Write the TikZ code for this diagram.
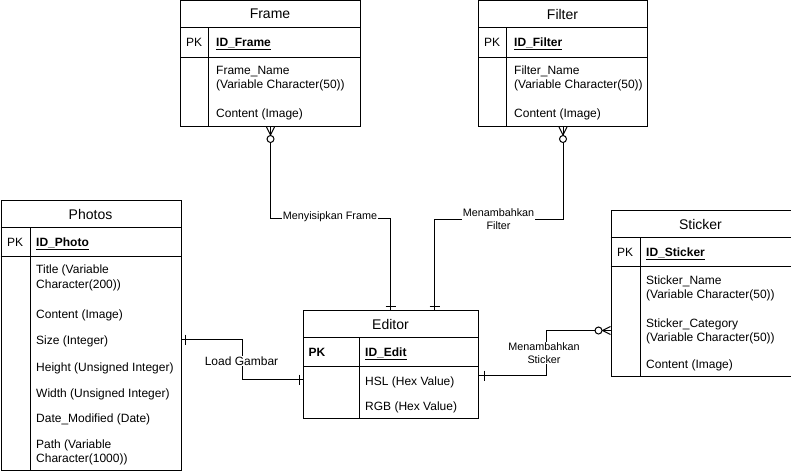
\documentclass[tikz,border=0pt]{standalone}
\usepackage{fontspec}
\setmainfont{Liberation Sans}
\usetikzlibrary{calc}
\tikzset{
  ent/.style={draw, line width=1pt, inner sep=0pt, anchor=north west, fill=white},
  fld/.style={anchor=base west, inner sep=0pt, font=\fontsize{12}{14}\selectfont},
  ttl/.style={inner sep=0pt, font=\fontsize{14}{16}\selectfont},
  lbl/.style={fill=white, inner sep=1pt, align=center, font=\fontsize{10.8}{12.5}\selectfont},
  biglbl/.style={fill=white, inner sep=1pt, align=center, font=\fontsize{12}{14}\selectfont},
  conn/.style={line width=1pt},
}
\newcommand{\pkf}[1]{\textbf{\underline{#1}}}
\begin{document}
\begin{tikzpicture}[x=1pt,y=-1pt]
\useasboundingbox (0,0) rectangle (791,474);

% ---------- Frame ----------
\node[ent, minimum width=180pt, minimum height=126pt] (frame) at (180,0) {};
\draw[conn] ([yshift=-27pt]frame.north west) -- ([yshift=-27pt]frame.north east);
\draw[conn] ([yshift=-57pt]frame.north west) -- ([yshift=-57pt]frame.north east);
\draw[conn] ([xshift=28pt,yshift=-27pt]frame.north west) -- ([xshift=28pt]frame.south west);
\node[ttl] (frameT) at (270,14) {Frame};
\node[fld] (framePK) at (186,46.5) {PK};
\node[fld] (frameID) at (216,46.5) {\pkf{ID\_Frame}};
\node[fld] (frameA) at (216,74.5) {Frame\_Name};
\node[fld] (frameB) at (216,88.5) {(Variable Character(50))};
\node[fld] (frameC) at (216,117.5) {Content (Image)};

% ---------- Filter ----------
\node[ent, minimum width=169pt, minimum height=126pt] (filter) at (478,0) {};
\draw[conn] ([yshift=-27pt]filter.north west) -- ([yshift=-27pt]filter.north east);
\draw[conn] ([yshift=-57pt]filter.north west) -- ([yshift=-57pt]filter.north east);
\draw[conn] ([xshift=28pt,yshift=-27pt]filter.north west) -- ([xshift=28pt]filter.south west);
\node[ttl] (filterT) at (562.5,14) {Filter};
\node[fld] (filterPK) at (484,46.5) {PK};
\node[fld] (filterID) at (514,46.5) {\pkf{ID\_Filter}};
\node[fld] (filterA) at (514,74.5) {Filter\_Name};
\node[fld] (filterB) at (514,88.5) {(Variable Character(50))};
\node[fld] (filterC) at (514,117.5) {Content (Image)};

% ---------- Photos ----------
\node[ent, minimum width=180pt, minimum height=270pt] (photos) at (0.5,200) {};
\draw[conn] ([yshift=-27pt]photos.north west) -- ([yshift=-27pt]photos.north east);
\draw[conn] ([yshift=-56pt]photos.north west) -- ([yshift=-56pt]photos.north east);
\draw[conn] ([xshift=30pt,yshift=-27pt]photos.north west) -- ([xshift=30pt]photos.south west);
\node[ttl] (photosT) at (90.5,214) {Photos};
\node[fld] (photosPK) at (7,246) {PK};
\node[fld] (photosID) at (36,246) {\pkf{ID\_Photo}};
\node[fld] (photosA) at (36,273.5) {Title (Variable};
\node[fld] (photosB) at (36,288) {Character(200))};
\node[fld] (photosC) at (36,318.5) {Content (Image)};
\node[fld] (photosD) at (36,344.5) {Size (Integer)};
\node[fld] (photosE) at (36,371) {Height (Unsigned Integer)};
\node[fld] (photosF) at (36,397) {Width (Unsigned Integer)};
\node[fld] (photosG) at (36,422) {Date\_Modified (Date)};
\node[fld] (photosH) at (36,448) {Path (Variable};
\node[fld] (photosI) at (36,462) {Character(1000))};

% ---------- Editor ----------
\node[ent, minimum width=175pt, minimum height=108pt] (editor) at (303,310) {};
\draw[conn] ([yshift=-27pt]editor.north west) -- ([yshift=-27pt]editor.north east);
\draw[conn] ([yshift=-56pt]editor.north west) -- ([yshift=-56pt]editor.north east);
\draw[conn] ([xshift=56pt,yshift=-27pt]editor.north west) -- ([xshift=56pt]editor.south west);
\node[ttl] (editorT) at (390.5,324) {Editor};
\node[fld] (editorPK) at (308.5,356.5) {\textbf{PK}};
\node[fld] (editorID) at (365,356.5) {\pkf{ID\_Edit}};
\node[fld] (editorA) at (365,385) {HSL (Hex Value)};
\node[fld] (editorB) at (365,410) {RGB (Hex Value)};

% ---------- Sticker ----------
\node[ent, minimum width=180pt, minimum height=166pt] (sticker) at (610.5,210) {};
\draw[conn] ([yshift=-27pt]sticker.north west) -- ([yshift=-27pt]sticker.north east);
\draw[conn] ([yshift=-56pt]sticker.north west) -- ([yshift=-56pt]sticker.north east);
\draw[conn] ([xshift=30pt,yshift=-27pt]sticker.north west) -- ([xshift=30pt]sticker.south west);
\node[ttl] (stickerT) at (700.5,224) {Sticker};
\node[fld] (stickerPK) at (617,256.5) {PK};
\node[fld] (stickerID) at (646,256.5) {\pkf{ID\_Sticker}};
\node[fld] (stickerA) at (646,284) {Sticker\_Name};
\node[fld] (stickerB) at (646,298.5) {(Variable Character(50))};
\node[fld] (stickerC) at (646,327.5) {Sticker\_Category};
\node[fld] (stickerD) at (646,341.5) {(Variable Character(50))};
\node[fld] (stickerE) at (646,368) {Content (Image)};

% ---------- Connectors ----------
% Frame -> Editor
\draw[conn] (frame.south) -- ++(0,91) -| ([xshift=-0.5pt]editor.north);
\node[lbl] (lblFrame) at (330,217) {Menyisipkan Frame};
\draw[conn] ([xshift=-4pt]frame.south) -- ([yshift=-8pt]frame.south) -- ([xshift=4pt]frame.south);
\draw[conn, fill=white] ([yshift=-12pt]frame.south) circle (3.5pt);
\draw[conn] ([xshift=-5.5pt,yshift=4pt]editor.north) -- ([xshift=4.5pt,yshift=4pt]editor.north);

% Filter -> Editor
\draw[conn] (filter.south) -- ++(0,92) -| ([xshift=43.5pt]editor.north);
\node[lbl] (lblFilter) at (498.5,219) {Menambahkan\\Filter};
\draw[conn] ([xshift=-4pt]filter.south) -- ([yshift=-8pt]filter.south) -- ([xshift=4pt]filter.south);
\draw[conn, fill=white] ([yshift=-12pt]filter.south) circle (3.5pt);
\draw[conn] ([xshift=38.5pt,yshift=4pt]editor.north) -- ([xshift=48.5pt,yshift=4pt]editor.north);

% Photos -> Editor
\draw[conn] ([yshift=-4pt]photos.east) -- ++(61,0) |- ([yshift=-15pt]editor.west);
\node[biglbl] (lblLoad) at (241.5,361) {Load Gambar};
\draw[conn] ([xshift=4pt,yshift=1pt]photos.east) -- ([xshift=4pt,yshift=-9pt]photos.east);
\draw[conn] ([xshift=-4pt,yshift=-10pt]editor.west) -- ([xshift=-4pt,yshift=-20pt]editor.west);

% Editor -> Sticker
\draw[conn] ([yshift=-11pt]editor.east) -- ++(67,0) |- ([yshift=-37pt]sticker.west);
\node[lbl] (lblSticker) at (544,353) {Menambahkan\\Sticker};
\draw[conn] ([xshift=5pt,yshift=-6pt]editor.east) -- ([xshift=5pt,yshift=-16pt]editor.east);
\draw[conn] ([yshift=-33pt]sticker.west) -- ([xshift=-8pt,yshift=-37pt]sticker.west) -- ([yshift=-41pt]sticker.west);
\draw[conn, fill=white] ([xshift=-12pt,yshift=-37pt]sticker.west) circle (3.5pt);
\end{tikzpicture}
\end{document}
